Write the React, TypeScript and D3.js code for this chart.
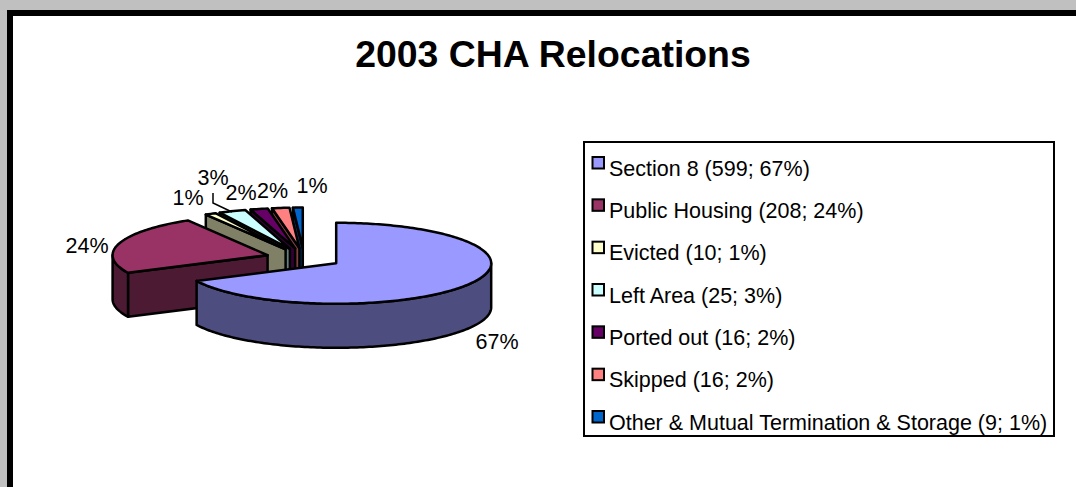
import React from "react";
import * as d3 from "d3";

const categories = ["Section 8", "Public Housing", "Evicted", "Left Area", "Ported out", "Skipped", "Other & Mutual Termination & Storage"];
const counts = [599, 208, 10, 25, 16, 16, 9];
const percents = [67, 24, 1, 3, 2, 2, 1];
const topColors = ["#9999FF", "#993366", "#FFFFCC", "#CCFFFF", "#660066", "#FF8080", "#0066CC"];
const sideColors = ["#4D4D80", "#4D1A33", "#808066", "#668080", "#330033", "#804040", "#003366"];
const labelCenters: [number, number][] = [[497, 341], [87, 245], [188, 197.5], [213, 177.5], [241, 192], [272.5, 190], [312, 185.5]];

const W = 1076, H = 487;
const FONT = "'Liberation Sans', Arial, sans-serif";
const cx = 304, cy = 258, rx = 155, ry = 40.5, depth = 44, explode = 38;

const lineGen = d3.line<[number, number]>();

function sample(a0: number, a1: number, ox: number, oy: number): [number, number][] {
  const n = Math.max(2, Math.ceil(Math.abs(a1 - a0) / 0.02));
  return d3.range(n + 1).map((i) => {
    const a = a0 + ((a1 - a0) * i) / n;
    return [ox + rx * Math.sin(a), oy - ry * Math.cos(a)] as [number, number];
  });
}

function Slice({ arc, i }: { arc: d3.PieArcDatum<number>; i: number }) {
  const mid = (arc.startAngle + arc.endAngle) / 2;
  const ox = cx + explode * Math.sin(mid);
  const oy = cy - (explode * ry * Math.cos(mid)) / rx;
  const top = sample(arc.startAngle, arc.endAngle, ox, oy);
  const shade = sideColors[i];
  const stroke = { stroke: "#000", strokeWidth: 2.5, strokeLinejoin: "round" as const };

  const faces: React.ReactNode[] = [];
  const radial = (a: number, key: string) => {
    const p: [number, number] = [ox + rx * Math.sin(a), oy - ry * Math.cos(a)];
    const pts: [number, number][] = [[ox, oy], p, [p[0], p[1] + depth], [ox, oy + depth]];
    faces.push(<path key={key} d={lineGen(pts) + "Z"} fill={shade} {...stroke} />);
  };
  if (Math.sin(arc.startAngle) < 0) radial(arc.startAngle, "start");
  if (Math.sin(arc.endAngle) > 0) radial(arc.endAngle, "end");

  const w0 = Math.max(arc.startAngle, Math.PI / 2);
  const w1 = Math.min(arc.endAngle, (3 * Math.PI) / 2);
  if (w1 > w0) {
    const upper = sample(w0, w1, ox, oy);
    const lower = upper.slice().reverse().map(([x, y]) => [x, y + depth] as [number, number]);
    faces.push(<path key="wall" d={lineGen(upper.concat(lower)) + "Z"} fill={shade} {...stroke} />);
  }
  return (
    <g>
      {faces}
      <path d={lineGen(([[ox, oy]] as [number, number][]).concat(top)) + "Z"} fill={topColors[i]} {...stroke} />
    </g>
  );
}

export default function App() {
  const arcs = d3.pie<number>().sort(null).value((d) => d)(counts);
  const order = d3.range(counts.length).reverse();
  const rowY = d3.scalePoint<number>().domain(d3.range(counts.length)).range([167, 421]);
  return (
    <svg width={W} height={H} viewBox={`0 0 ${W} ${H}`} style={{ position: "absolute", left: 0, top: 0, display: "block" }}>
      <rect x={0} y={0} width={W} height={H} fill="#C0C0C0" />
      <rect x={7} y={10} width={W - 7} height={H - 10} fill="#000" />
      <rect x={13} y={16} width={W - 13} height={H - 16} fill="#fff" />
      <text x={553} y={67} textAnchor="middle" fontFamily={FONT} fontWeight="bold" fontSize={37.4} fill="#000">2003 CHA Relocations</text>

      {order.map((i) => <Slice key={i} arc={arcs[i]} i={i} />)}

      <path d="M213,193 L213,203 L232,212" fill="none" stroke="#000" strokeWidth={1.5} />
      {percents.map((p, i) => (
        <text key={i} x={labelCenters[i][0]} y={labelCenters[i][1]} dy="0.36em" textAnchor="middle" fontFamily={FONT} fontSize={21.5} fill="#000">{p}%</text>
      ))}

      <rect x={584} y={142} width={470} height={294} fill="#fff" stroke="#000" strokeWidth={2} />
      {categories.map((c, i) => (
        <g key={c}>
          <rect x={592.5} y={rowY(i)! - 10} width={11.5} height={11.5} fill={topColors[i]} stroke="#000" strokeWidth={2} />
          <text x={609} y={rowY(i)!} dy="0.4em" fontFamily={FONT} fontSize={21.5} fill="#000">{`${c} (${counts[i]}; ${percents[i]}%)`}</text>
        </g>
      ))}
    </svg>
  );
}
